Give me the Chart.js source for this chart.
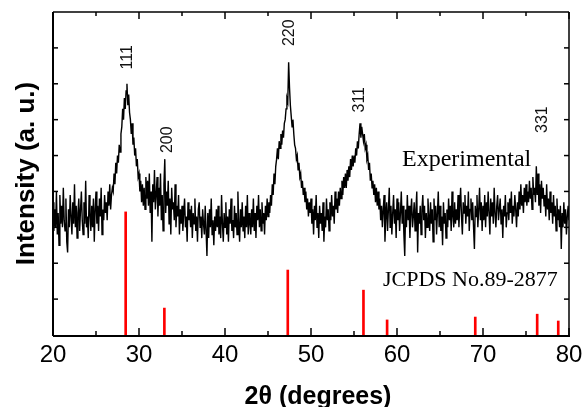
<!DOCTYPE html>
<html>
<head>
<meta charset="utf-8">
<script src="https://cdn.jsdelivr.net/npm/chart.js@4.4.1/dist/chart.umd.min.js"></script>
<style>
    html, body { margin: 0; padding: 0; background: #fff; }
    #wrap { width: 582px; height: 407px; }
</style>
</head>
<body>
<div id="wrap"><canvas id="xrd" width="582" height="407"></canvas></div>
<script>
    'use strict';

    // Scan grid (degrees 2-theta)
    const twoThetaStart = 20;
    const twoThetaStep = 0.1;

    // Experimental pattern (arb. units, one row per degree)
    const intensity = [
        3.7, 2.9, 3.5, 3.0, 4.0, 2.8, 3.4, 2.5, 3.9, 3.1,
        3.6, 3.0, 4.1, 3.2, 2.9, 3.8, 2.6, 2.3, 3.5, 3.0,
        3.9, 3.3, 2.8, 3.7, 3.1, 4.2, 3.0, 3.6, 2.7, 3.4,
        3.8, 2.9, 3.5, 4.0, 3.2, 2.8, 3.7, 3.1, 4.3, 3.0,
        3.3, 2.7, 3.9, 3.4, 2.9, 3.6, 3.0, 3.8, 2.6, 3.5,
        4.0, 3.1, 3.6, 2.9, 3.8, 3.3, 4.1, 2.8, 3.5, 3.2,
        3.9, 3.4, 3.7, 3.2, 4.0, 3.6, 4.2, 3.5, 3.9, 4.1,
        4.0, 4.5, 4.2, 4.8, 4.5, 5.0, 4.8, 5.3, 5.1, 5.6,
        5.8, 6.3, 6.0, 6.6, 6.3, 6.8, 7.0, 6.4, 6.7, 6.2,
        6.0, 5.6, 5.9, 5.3, 5.5, 5.0, 5.2, 4.7, 4.9, 4.4,
        4.5, 4.0, 4.3, 3.7, 4.2, 3.6, 4.1, 3.5, 4.4, 3.8,
        4.3, 3.6, 4.5, 3.4, 4.0, 2.6, 4.2, 3.7, 4.6, 3.5,
        3.9, 4.4, 3.3, 4.1, 3.6, 4.5, 3.2, 3.9, 2.9, 4.2,
        4.9, 3.4, 4.0, 3.6, 4.3, 3.1, 3.8, 2.8, 4.1, 3.5,
        3.7, 3.2, 4.2, 3.0, 3.6, 3.3, 3.9, 2.8, 3.5, 3.1,
        3.6, 2.9, 3.4, 3.8, 3.0, 3.3, 2.6, 3.7, 3.2, 3.5,
        3.0, 3.6, 2.7, 3.4, 3.1, 3.8, 2.9, 3.3, 2.6, 3.5,
        3.7, 3.0, 3.3, 2.7, 3.5, 3.1, 2.8, 3.6, 2.9, 2.2,
        3.4, 2.7, 3.5, 3.0, 3.8, 2.8, 3.2, 2.5, 3.3, 2.9,
        3.5, 3.0, 3.6, 2.8, 3.3, 2.7, 3.9, 3.1, 2.6, 3.4,
        3.0, 3.7, 2.8, 3.3, 2.6, 3.5, 3.1, 3.8, 2.9, 3.2,
        2.7, 3.6, 3.0, 3.4, 2.8, 4.0, 3.1, 2.6, 3.5, 3.0,
        3.7, 2.9, 3.3, 2.7, 3.6, 3.0, 3.9, 2.8, 3.4, 3.1,
        2.8, 3.5, 3.0, 3.8, 2.9, 3.4, 2.7, 3.6, 3.2, 3.9,
        3.0, 3.5, 2.9, 3.7, 3.1, 3.4, 2.8, 3.6, 3.2, 3.8,
        3.3, 3.7, 3.4, 3.9, 3.6, 4.2, 3.9, 4.5, 4.2, 4.7,
        4.9, 5.2, 4.9, 5.4, 5.2, 5.6, 5.3, 5.7, 5.5, 5.9,
        6.0, 6.3, 6.6, 6.5, 7.6, 6.9, 6.4, 6.1, 5.8, 6.0,
        5.6, 5.3, 5.2, 4.9, 5.0, 4.6, 4.8, 4.4, 4.5, 4.1,
        4.3, 3.9, 4.1, 3.7, 4.0, 3.5, 3.8, 3.3, 3.7, 3.4,
        3.8, 3.1, 3.5, 2.8, 3.6, 3.2, 3.9, 3.0, 3.4, 2.7,
        3.6, 3.1, 3.4, 2.9, 3.7, 2.6, 3.3, 3.0, 3.8, 3.2,
        3.5, 2.9, 3.7, 3.2, 3.9, 3.3, 3.6, 3.1, 4.0, 3.5,
        3.8, 3.4, 4.0, 3.6, 4.1, 3.8, 4.3, 3.9, 4.4, 4.1,
        4.5, 4.1, 4.6, 4.3, 4.7, 4.4, 4.9, 4.6, 5.0, 4.7,
        5.0, 4.8, 5.2, 5.0, 5.4, 5.2, 5.6, 5.9, 5.5, 5.8,
        5.6, 5.4, 5.6, 5.2, 5.3, 4.9, 5.0, 4.6, 4.8, 4.3,
        4.5, 4.1, 4.3, 3.9, 4.2, 3.7, 4.1, 3.6, 4.0, 3.5,
        3.8, 3.2, 3.6, 3.0, 3.5, 3.9, 2.6, 3.3, 3.7, 2.9,
        3.5, 4.1, 3.0, 3.6, 2.8, 3.4, 3.9, 3.1, 3.5, 2.7,
        3.8, 3.2, 3.7, 2.9, 3.4, 4.0, 3.1, 3.6, 2.8, 2.2,
        3.5, 3.0, 3.9, 3.2, 3.6, 2.7, 3.4, 3.8, 3.0, 3.3,
        3.7, 2.9, 3.5, 4.0, 2.3, 3.4, 3.1, 3.6, 2.8, 3.5,
        3.9, 3.2, 3.6, 2.7, 3.4, 3.0, 3.8, 3.3, 2.9, 3.7,
        3.1, 3.5, 2.6, 3.8, 3.2, 3.6, 2.8, 3.4, 4.0, 3.0,
        3.6, 2.9, 3.3, 2.5, 3.7, 3.1, 3.4, 2.7, 3.5, 3.0,
        3.8, 3.2, 3.6, 2.9, 4.0, 3.3, 3.0, 3.7, 3.1, 3.5,
        3.2, 3.9, 3.0, 3.6, 4.1, 3.3, 2.8, 3.7, 3.4, 3.9,
        3.1, 3.6, 3.3, 4.0, 2.9, 3.5, 3.8, 3.2, 3.7, 3.0,
        2.4, 3.6, 3.3, 3.9, 3.0, 3.5, 4.1, 3.2, 3.7, 2.9,
        3.6, 3.2, 3.9, 3.0, 3.7, 3.3, 4.0, 3.4, 2.8, 3.8,
        3.3, 3.7, 3.1, 4.1, 3.4, 3.0, 3.6, 3.9, 3.2, 3.5,
        3.8, 3.1, 3.5, 2.7, 3.6, 3.3, 3.9, 3.0, 3.4, 3.7,
        3.2, 3.8, 3.4, 4.0, 3.1, 3.6, 3.3, 3.9, 3.5, 3.0,
        3.7, 3.3, 4.0, 3.5, 4.2, 3.6, 3.9, 3.4, 4.1, 3.7,
        4.2, 3.6, 4.0, 3.7, 4.3, 3.8, 4.1, 3.5, 4.4, 3.9,
        4.1, 3.7, 4.7, 3.9, 4.5, 3.6, 4.2, 3.4, 4.3, 3.8,
        4.1, 3.6, 3.9, 3.3, 4.2, 3.5, 3.8, 3.2, 4.0, 3.4,
        3.7, 3.1, 3.9, 3.3, 3.6, 2.9, 3.8, 3.2, 3.5, 3.0,
        3.6, 2.4, 3.4, 3.0, 3.7, 3.1, 3.5, 2.8, 3.3, 3.6,
        3.2
    ];

    // JCPDS No.89-2877 reference lines
    const refPositions = [28.45, 32.95, 47.3, 56.1, 58.85, 69.1, 76.3, 78.75];
    const refHeights = [3.43, 0.75, 1.81, 1.25, 0.42, 0.5, 0.58, 0.39];

    // Miller indices annotated on the peaks
    const peakLabels = ['111', '200', '220', '311', '331'];

    const xTickValues = [20, 30, 40, 50, 60, 70, 80];

    const SANS = "'Liberation Sans', Arial, sans-serif";
    const SERIF = "'Liberation Serif', 'Times New Roman', serif";

    // where each hkl label sits (data coords, text starts at y and runs upward)
    const peakLabelAnchors = [
        { x: 28.7, y: 7.4 },
        { x: 33.35, y: 5.07 },
        { x: 47.55, y: 8.05 },
        { x: 55.7, y: 6.2 },
        { x: 76.98, y: 5.63 }
    ];

    const expPoints = intensity.map((v, i) => ({
        x: +(twoThetaStart + i * twoThetaStep).toFixed(1),
        y: v
    }));
    const refPoints = refPositions.map((p, i) => ({ x: p, y: refHeights[i] }));

    // frame, inward ticks and all the free text
    const xrdDecor = {
        id: 'xrdDecor',
        afterDraw(chart) {
            const { ctx, chartArea: a, scales: { x, y } } = chart;
            ctx.save();
            ctx.strokeStyle = '#000';

            function seg(x1, y1, x2, y2) {
                ctx.beginPath();
                ctx.moveTo(x1, y1);
                ctx.lineTo(x2, y2);
                ctx.stroke();
            }

            ctx.lineWidth = 1.5;
            seg(a.left, a.top, a.right, a.top);
            seg(a.right, a.top, a.right, a.bottom);
            ctx.lineWidth = 2;
            seg(a.left, a.bottom + 1, a.right + 1, a.bottom + 1);
            seg(a.left, a.top, a.left, a.bottom + 1);

            ctx.lineWidth = 1.5;
            for (let v = 20; v <= 80; v += 5) {
                const px = x.getPixelForValue(v);
                const len = v % 10 === 0 ? 7 : 4;
                seg(px, a.bottom, px, a.bottom - len);
                seg(px, a.top, px, a.top + len);
            }
            for (let v = 1; v < 9; v++) {
                const py = y.getPixelForValue(v);
                seg(a.left, py, a.left + 5, py);
                seg(a.right, py, a.right - 5, py);
            }

            // hkl labels, rotated
            ctx.fillStyle = '#111';
            ctx.font = '16px ' + SANS;
            ctx.textAlign = 'left';
            ctx.textBaseline = 'middle';
            peakLabels.forEach((txt, i) => {
                const anc = peakLabelAnchors[i];
                ctx.save();
                ctx.translate(x.getPixelForValue(anc.x), y.getPixelForValue(anc.y));
                ctx.rotate(-Math.PI / 2);
                ctx.fillText(txt, 0, 0);
                ctx.restore();
            });

            // series captions
            ctx.fillStyle = '#000';
            ctx.textBaseline = 'alphabetic';
            ctx.font = '24px ' + SERIF;
            ctx.fillText('Experimental', x.getPixelForValue(60.58), y.getPixelForValue(4.71));
            ctx.font = '22px ' + SERIF;
            ctx.fillText('JCPDS No.89-2877', x.getPixelForValue(58.37), y.getPixelForValue(1.36));

            // axis titles
            ctx.font = 'bold 25px ' + SANS;
            ctx.textAlign = 'center';
            ctx.fillText('2\u03b8 (degrees)', 318, 404);
            ctx.save();
            ctx.translate(27, (a.top + a.bottom) / 2);
            ctx.rotate(-Math.PI / 2);
            ctx.textBaseline = 'middle';
            ctx.font = 'bold 26px ' + SANS;
            ctx.fillText('Intensity (a. u.)', 0, 0);
            ctx.restore();

            ctx.restore();
        }
    };

    const chart = new Chart(document.getElementById('xrd').getContext('2d'), {
        type: 'line',
        data: {
            datasets: [
                {
                    label: 'Experimental',
                    data: expPoints,
                    borderColor: '#000',
                    borderWidth: 1.4,
                    pointRadius: 0,
                    tension: 0,
                    order: 2
                },
                {
                    type: 'bar',
                    label: 'JCPDS No.89-2877',
                    data: refPoints,
                    backgroundColor: '#ff0000',
                    borderWidth: 0,
                    barThickness: 2,
                    grouped: false,
                    order: 1
                }
            ]
        },
        options: {
            responsive: false,
            animation: false,
            events: [],
            layout: { padding: { top: 12, right: 13, left: 0, bottom: 0 } },
            plugins: {
                legend: { display: false },
                tooltip: { enabled: false }
            },
            scales: {
                x: {
                    type: 'linear',
                    min: 20,
                    max: 80,
                    offset: false,
                    grid: { display: false, drawTicks: false },
                    border: { display: false },
                    afterBuildTicks: s => { s.ticks = xTickValues.map(v => ({ value: v })); },
                    afterFit: s => { s.height = 72; s.paddingLeft = 0; s.paddingRight = 0; },
                    ticks: {
                        color: '#000',
                        padding: 6,
                        maxRotation: 0,
                        autoSkip: false,
                        font: { family: SANS, size: 24 }
                    }
                },
                y: {
                    min: 0,
                    max: 9,
                    grid: { display: false, drawTicks: false },
                    border: { display: false },
                    ticks: { display: false },
                    afterFit: s => { s.width = 53; }
                }
            }
        },
        plugins: [xrdDecor]
    });
</script>
</body>
</html>
